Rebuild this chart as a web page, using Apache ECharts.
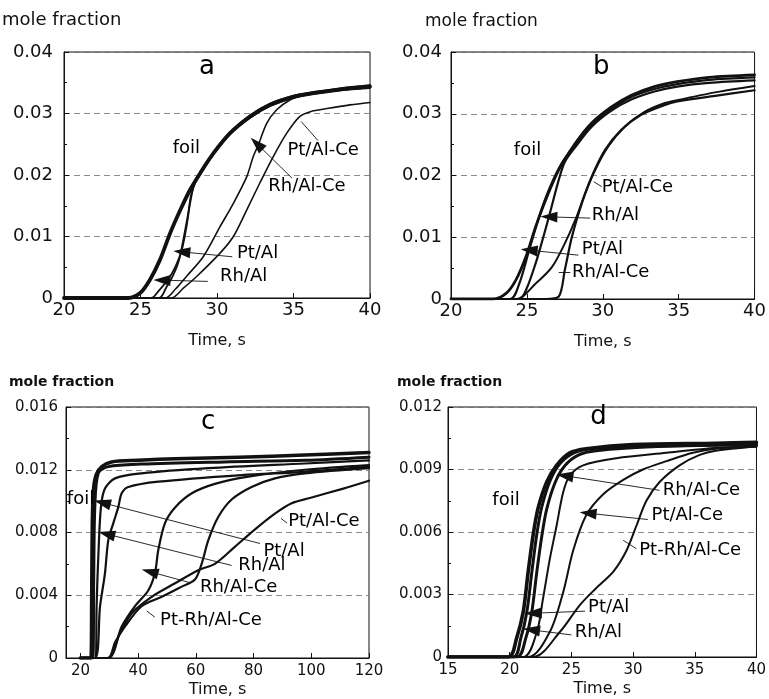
<!DOCTYPE html>
<html><head><meta charset="utf-8">
<script src="https://cdn.jsdelivr.net/npm/echarts@6/dist/echarts.min.js"></script>
<style>html,body{margin:0;padding:0;background:#fff}#c{width:769px;height:699px}</style>
</head><body><div id="c"></div><script>
// ---------- Panel a ----------
const aFoil = [[20,0],[24.2,0],[24.97,0.0008],[25.6,0.0029],[26.27,0.0062],[26.93,0.0105],[27.6,0.0143],[28.24,0.0176],[28.9,0.0203],[29.76,0.0235],[30.85,0.0268],[32.16,0.0295],[33.46,0.0314],[35.0,0.0327],[36.3,0.0333],[38,0.0339],[40,0.0344]];
const aPtAl = [[20,0],[25.7,0],[26.2,0.0012],[26.8,0.003],[27.3,0.0052],[27.7,0.0078],[28.0,0.0115],[28.25,0.0155],[28.5,0.0183],[28.9,0.0201],[29.76,0.0233],[30.85,0.0266],[32.16,0.0293],[33.46,0.0312],[35.0,0.0326],[36.3,0.0332],[38,0.0338],[40,0.0342]];
const aRhAl = [[20,0],[26.2,0],[26.7,0.0018],[27.1,0.0035],[27.5,0.006],[27.8,0.0095],[28.1,0.0135],[28.35,0.0172],[28.9,0.0204],[29.76,0.0236],[30.85,0.0269],[32.16,0.0297],[33.46,0.0316],[35.0,0.0329],[36.3,0.0335],[38,0.0341],[40,0.0346]];
const aRhAlCe = [[20,0],[26.6,0],[27.3,0.0015],[28.0,0.0035],[29.1,0.0067],[30.2,0.0116],[31.07,0.0154],[31.94,0.0197],[32.37,0.023],[32.7,0.0249],[33.25,0.0284],[33.9,0.0306],[34.77,0.0322],[35.6,0.0329],[37,0.0335],[40,0.0341]];
const aPtAlCe = [[20,0],[27.0,0],[27.8,0.0016],[28.67,0.0035],[30.2,0.0073],[31.07,0.01],[31.94,0.0143],[32.8,0.0187],[33.68,0.023],[34.56,0.0268],[35.4,0.0295],[36.1,0.0303],[37.2,0.0308],[38.7,0.0314],[40,0.0318]];
const aLetter = [{text:'a', x:29.35, y:0.0376}];
const aLabels = [
  {text:'foil', x:28.0, y:0.0243, anchor:'center'},
  {text:'Pt/Al-Ce', x:34.6, y:0.0240, anchor:'left'},
  {text:'Rh/Al-Ce', x:33.35, y:0.0182, anchor:'left'},
  {text:'Pt/Al', x:31.3, y:0.0072, anchor:'left'},
  {text:'Rh/Al', x:30.2, y:0.0035, anchor:'left'}
];
const aArrows = [
  {from:[36.6,0.0256], to:[35.5,0.0287], head:false},
  {from:[34.9,0.0195], to:[32.6,0.0251], head:true},
  {from:[31.0,0.0067], to:[27.7,0.0075], head:true},
  {from:[29.4,0.0027], to:[26.4,0.0029], head:true}
];

// ---------- Panel b ----------
const bFoil = [[20,0],[22.76,0],[23.63,0.0009],[24.28,0.0031],[24.93,0.0068],[25.58,0.0117],[26.23,0.016],[27.1,0.0209],[28.19,0.0252],[29.27,0.0285],[30.57,0.0311],[31.88,0.033],[33.4,0.0344],[34.9,0.0352],[37,0.0359],[40,0.0363]];
const bPtAl = [[20,0],[23.9,0],[24.5,0.0025],[25.15,0.0079],[25.8,0.0133],[26.45,0.0177],[27.3,0.022],[28.19,0.0249],[29.27,0.0282],[30.57,0.0308],[31.88,0.0327],[33.4,0.034],[34.9,0.0348],[37,0.0355],[40,0.0359]];
const bRhAl = [[20,0],[24.5,0],[25.0,0.0018],[25.58,0.0058],[26.0,0.0093],[26.45,0.0133],[27.1,0.0193],[27.5,0.0222],[28.19,0.0246],[29.27,0.0279],[30.57,0.0305],[31.88,0.0323],[33.4,0.0336],[34.9,0.0344],[37,0.035],[40,0.0354]];
const bPtAlCe = [[20,0],[24.3,0],[25.58,0.0025],[26.66,0.0052],[27.5,0.009],[28.19,0.0128],[28.84,0.0171],[29.5,0.0209],[30.36,0.0247],[31.45,0.0279],[32.75,0.0303],[34.05,0.0317],[34.9,0.0322],[37.5,0.0335],[40,0.0345]];
const bRhAlCe = [[20,0],[26.23,0],[27.1,0.0004],[27.5,0.0047],[27.97,0.0101],[28.62,0.0155],[29.27,0.0198],[30.14,0.0241],[31.22,0.0274],[32.5,0.0298],[34.05,0.0314],[34.9,0.032],[37.4,0.0329],[40,0.0338]];
const bLetter = [{text:'b', x:29.9, y:0.0376}];
const bLabels = [
  {text:'foil', x:25.04, y:0.0240, anchor:'center'},
  {text:'Pt/Al-Ce', x:29.93, y:0.0181, anchor:'left'},
  {text:'Rh/Al', x:29.27, y:0.0135, anchor:'left'},
  {text:'Pt/Al', x:28.62, y:0.0081, anchor:'left'},
  {text:'Rh/Al-Ce', x:27.97, y:0.0043, anchor:'left'}
];
const bArrows = [
  {from:[29.93,0.0182], to:[29.4,0.0190], head:false},
  {from:[29.17,0.0131], to:[26.45,0.0133], head:true},
  {from:[28.4,0.0071], to:[25.15,0.0079], head:true},
  {from:[27.86,0.0044], to:[27.1,0.0044], head:false}
];

// ---------- Panel c ----------
const cFoil = [[20,0],[23.6,0],[23.9,0.004],[24.1,0.0085],[24.5,0.0107],[25.5,0.0117],[27.4,0.0122],[30.8,0.0125],[40,0.0126],[52.8,0.0127],[75,0.0128],[97.8,0.01294],[120,0.0131]];
const cFoil2 = [[20,0],[24.3,0],[24.6,0.005],[25.0,0.0097],[26.2,0.0118],[29.7,0.0122],[41.2,0.01236],[70,0.0125],[97.8,0.0126],[120,0.0128]];
const cPtAl = [[20,0],[25.3,0],[25.6,0.0033],[26.2,0.0065],[27.1,0.0096],[28.5,0.0108],[32,0.01145],[41.2,0.01177],[64.3,0.0121],[97.8,0.0124],[120,0.0126]];
const cRhAl = [[20,0],[25.05,0],[26.8,0.0033],[28.5,0.0054],[29.65,0.0075],[31.4,0.0086],[33.1,0.0096],[34.3,0.0105],[36.6,0.0109],[47,0.01124],[75.9,0.01166],[97.8,0.01187],[120,0.0122]];
const cRhAlCe = [[20,0],[29.7,0],[34.3,0.002],[38.9,0.0033],[43.5,0.0043],[45.8,0.0054],[47,0.0069],[49.3,0.0086],[52.8,0.0096],[58.6,0.0105],[66.6,0.0111],[78.2,0.01156],[97.8,0.012],[120,0.0123]];
const cPtAlCe = [[20,0],[29.5,0],[33.5,0.0015],[37.8,0.00285],[44.7,0.0039],[52.8,0.00476],[60.8,0.0056],[66.6,0.006],[73.6,0.0071],[80.5,0.0082],[87.4,0.0092],[93.2,0.00986],[99.5,0.0102],[111.1,0.0108],[120,0.0113]];
const cPtRhAlCe = [[20,0],[29.5,0],[32,0.001],[35.4,0.002],[41.2,0.0033],[48.2,0.0039],[55.1,0.00455],[59.7,0.005],[62,0.006],[64.3,0.0075],[67.8,0.009],[72.4,0.0101],[79.3,0.0109],[87.4,0.01145],[97.8,0.01177],[120,0.0121]];
const cLetter = [{text:'c', x:64.3, y:0.0150}];
const cLabels = [
  {text:'foil', x:15.3, y:0.0101, anchor:'left'},
  {text:'Pt/Al-Ce', x:92, y:0.0087, anchor:'left'},
  {text:'Pt/Al', x:83.4, y:0.0068, anchor:'left'},
  {text:'Rh/Al', x:74.7, y:0.0059, anchor:'left'},
  {text:'Rh/Al-Ce', x:61.4, y:0.0045, anchor:'left'},
  {text:'Pt-Rh/Al-Ce', x:47.6, y:0.0024, anchor:'left'}
];
const cArrows = [
  {from:[91.6,0.0086], to:[89.5,0.0089], head:false},
  {from:[82.2,0.0073], to:[27.6,0.0099], head:true},
  {from:[72.4,0.0059], to:[29.1,0.0079], head:true},
  {from:[58.0,0.0048], to:[44.1,0.0055], head:true},
  {from:[45.8,0.0026], to:[43.0,0.0030], head:false}
];

// ---------- Panel d ----------
const dFoil = [[15,0],[19.9,0],[20.56,0.0009],[21.1,0.00218],[21.5,0.0041],[21.9,0.00586],[22.3,0.00714],[23.0,0.0084],[23.8,0.0092],[24.87,0.0098],[26.2,0.01],[30,0.0102],[36.7,0.01026],[40,0.0103]];
const dPtAl = [[15,0],[20.3,0],[20.9,0.0009],[21.4,0.0022],[21.8,0.0041],[22.2,0.0059],[22.6,0.0072],[23.3,0.0085],[24.1,0.0093],[25.2,0.0098],[26.6,0.01],[30,0.0101],[40,0.0102]];
const dRhAl = [[15,0],[20.6,0],[21.3,0.0009],[21.8,0.0022],[22.2,0.0041],[22.6,0.0058],[23.0,0.0071],[23.7,0.0084],[24.5,0.0092],[25.6,0.0097],[27,0.0099],[32,0.0101],[40,0.0102]];
const dRhAlCe = [[15,0],[21.1,0],[22.2,0.0012],[22.7,0.0028],[23.25,0.0047],[23.8,0.0063],[24.33,0.0079],[24.87,0.0087],[25.95,0.0092],[28.65,0.00954],[32.7,0.0098],[35.9,0.01],[40,0.0101]];
const dPtAlCe = [[15,0],[21.5,0],[23.25,0.0012],[24.33,0.0031],[25.14,0.0051],[26.2,0.0068],[27.56,0.0078],[29.2,0.0085],[30.8,0.009],[32.7,0.0094],[34.85,0.0098],[36.7,0.01],[40,0.0101]];
const dPtRhAlCe = [[15,0],[21.9,0],[24.06,0.0012],[25.7,0.0025],[27.0,0.0033],[28.4,0.0041],[29.46,0.0051],[30.27,0.0063],[31.08,0.0075],[32.15,0.0084],[33.77,0.0092],[35.4,0.0097],[36.7,0.0099],[40,0.0101]];
const dLetter = [{text:'d', x:27.2, y:0.01153}];
const dLabels = [
  {text:'foil', x:19.7, y:0.0075, anchor:'center'},
  {text:'Rh/Al-Ce', x:32.4, y:0.0080, anchor:'left'},
  {text:'Pt/Al-Ce', x:31.5, y:0.0068, anchor:'left'},
  {text:'Pt-Rh/Al-Ce', x:30.5, y:0.0051, anchor:'left'},
  {text:'Pt/Al', x:26.35, y:0.0024, anchor:'left'},
  {text:'Rh/Al', x:25.27, y:0.0012, anchor:'left'}
];
const dArrows = [
  {from:[32.15,0.0080], to:[24.47,0.0087], head:true},
  {from:[31.2,0.0066], to:[26.35,0.0069], head:true},
  {from:[30.27,0.0052], to:[29.2,0.0056], head:false},
  {from:[26.1,0.0022], to:[21.9,0.0021], head:true},
  {from:[25.0,0.00106], to:[21.77,0.0013], head:true}
];

// tick label values for panel c
const cXTicks = [20,40,60,80,100,120];

const FONT = '"DejaVu Sans", sans-serif';
const INK = '#111';

const panels = [
  {grid:{left:64,top:52,width:306,height:246}, x:{min:20,max:40,interval:5}, y:{min:0,max:0.04,interval:0.01,dec:2},
   tickFont:18, nameFont:16, nameGap:35, xMargin:3, yMargin:11, labelFont:18, letterFont:26,
   series:[['foil',aFoil,3.8],['Pt/Al',aPtAl,1.8],['Rh/Al',aRhAl,1.8],['Rh/Al-Ce',aRhAlCe,1.6],['Pt/Al-Ce',aPtAlCe,1.6]],
   letter:aLetter, labels:aLabels, arrows:aArrows},
  {grid:{left:451,top:52,width:307,height:247}, x:{min:20,max:40,interval:5}, y:{min:0,max:0.04,interval:0.01,dec:2},
   tickFont:18, nameFont:16, nameGap:35, xMargin:3, yMargin:9, labelFont:18, letterFont:26,
   series:[['foil',bFoil,2.8],['Pt/Al',bPtAl,2.2],['Rh/Al',bRhAl,2.2],['Pt/Al-Ce',bPtAlCe,2],['Rh/Al-Ce',bRhAlCe,2.2]],
   letter:bLetter, labels:bLabels, arrows:bArrows},
  {grid:{left:66,top:407,width:303,height:251}, x:{min:15,max:120,ticks:cXTicks}, y:{min:0,max:0.016,interval:0.004,dec:3},
   tickFont:15, nameFont:16, nameGap:24, xMargin:6, yMargin:8, labelFont:18, letterFont:26,
   series:[['foil',cFoil,3.5],['foil',cFoil2,3],['Pt/Al',cPtAl,2.2],['Rh/Al',cRhAl,2.2],['Rh/Al-Ce',cRhAlCe,2.2],['Pt/Al-Ce',cPtAlCe,2.2],['Pt-Rh/Al-Ce',cPtRhAlCe,2.2]],
   letter:cLetter, labels:cLabels, arrows:cArrows},
  {grid:{left:448,top:407,width:309,height:250}, x:{min:15,max:40,interval:5}, y:{min:0,max:0.012,interval:0.003,dec:3},
   tickFont:15, nameFont:16, nameGap:24, xMargin:6, yMargin:6, labelFont:18, letterFont:26,
   series:[['foil',dFoil,3.6],['Pt/Al',dPtAl,3],['Rh/Al',dRhAl,3],['Rh/Al-Ce',dRhAlCe,2],['Pt/Al-Ce',dPtAlCe,2],['Pt-Rh/Al-Ce',dPtRhAlCe,2]],
   letter:dLetter, labels:dLabels, arrows:dArrows}
];

const option = {
  animation:false, backgroundColor:'#fff',
  title:[
    {text:'mole fraction', left:2, top:11, padding:0, textStyle:{fontFamily:FONT, fontSize:18, fontWeight:'normal', color:INK}},
    {text:'mole fraction', left:425, top:13, padding:0, textStyle:{fontFamily:FONT, fontSize:17, fontWeight:'normal', color:INK}},
    {text:'mole fraction', left:9, top:375, padding:0, textStyle:{fontFamily:FONT, fontSize:14, fontWeight:'bold', color:INK}},
    {text:'mole fraction', left:397, top:375, padding:0, textStyle:{fontFamily:FONT, fontSize:14, fontWeight:'bold', color:INK}}
  ],
  grid:[], xAxis:[], yAxis:[], series:[]
};

panels.forEach((p, i) => {
  option.grid.push(Object.assign({show:true, borderColor:INK, borderWidth:1, backgroundColor:'transparent'}, p.grid));
  const xa = {
    type:'value', gridIndex:i, min:p.x.min, max:p.x.max,
    name:'Time, s', nameLocation:'middle', nameGap:p.nameGap,
    nameTextStyle:{fontFamily:FONT, fontSize:p.nameFont, color:INK},
    axisLine:{show:true, onZero:false, lineStyle:{color:INK}},
    axisTick:{show:true, inside:true, length:5, lineStyle:{color:INK}},
    splitLine:{show:false},
    axisLabel:{fontFamily:FONT, fontSize:p.tickFont, color:INK, margin:p.xMargin}
  };
  if (p.x.ticks) { xa.axisLabel.customValues = p.x.ticks; xa.axisTick.customValues = p.x.ticks; }
  else { xa.interval = p.x.interval; }
  option.xAxis.push(xa);
  const dec = p.y.dec;
  option.yAxis.push({
    type:'value', gridIndex:i, min:p.y.min, max:p.y.max, interval:p.y.interval,
    axisLine:{show:true, lineStyle:{color:INK}},
    axisTick:{show:true, inside:true, length:5, lineStyle:{color:INK}},
    minorTick:{show:true, splitNumber:2, length:3, lineStyle:{color:INK}},
    splitLine:{show:true, lineStyle:{color:'#6f6f6f', type:[6,4], width:0.8}},
    axisLabel:{fontFamily:FONT, fontSize:p.tickFont, color:INK, margin:p.yMargin,
      formatter: v => (Math.abs(v) < 1e-12 ? '0' : v.toFixed(dec))}
  });
  p.series.forEach(([name, data, w]) => {
    option.series.push({
      type:'line', name, xAxisIndex:i, yAxisIndex:i, data,
      showSymbol:false, symbol:'none', smooth:0.3,
      lineStyle:{color:INK, width:w, cap:'round', join:'round'}, silent:true, z:3
    });
  });
  const labelItems = p.labels.map(l => ({value:[l.x, l.y], name:l.text, label:{align:l.anchor}}))
    .concat(p.letter.map(l => ({value:[l.x, l.y], name:l.text, label:{align:'center', fontSize:p.letterFont}})));
  option.series.push({
    type:'scatter', xAxisIndex:i, yAxisIndex:i, symbolSize:0, silent:true, z:5,
    itemStyle:{color:INK, opacity:0},
    data: labelItems,
    label:{show:true, position:'inside', verticalAlign:'middle', formatter:'{b}',
      fontFamily:FONT, fontSize:p.labelFont, color:'#000', opacity:1,
      textBorderWidth:0, textBorderColor:'transparent', textShadowBlur:0},
    markLine:{
      silent:true, symbol:['none','triangle'], symbolSize:[11,17], precision:6,
      lineStyle:{color:INK, width:0.9, type:'solid', opacity:1},
      itemStyle:{color:INK},
      label:{show:false},
      emphasis:{disabled:true},
      data: p.arrows.map(a => [
        {coord:a.from, symbol:'none'},
        {coord:a.to, symbol:a.head ? 'triangle' : 'none'}
      ])
    }
  });
});

const chart = echarts.init(document.getElementById('c'), null, {renderer:'canvas'});
chart.setOption(option);
</script></body></html>
